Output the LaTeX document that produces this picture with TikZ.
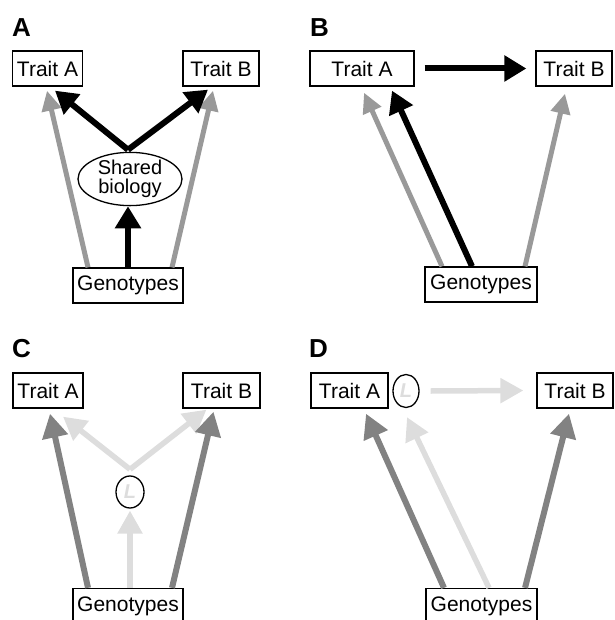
\documentclass[tikz,border=0pt]{standalone}
\usepackage{fontspec}
\setmainfont{Liberation Sans}
\usetikzlibrary{arrows.meta,shapes.geometric}
\definecolor{midgray}{HTML}{999999}
\definecolor{darkgray2}{HTML}{828282}
\definecolor{lightgray2}{HTML}{DDDDDD}
\tikzset{
  box/.style={draw, line width=1.3pt, inner sep=0pt, minimum height=35pt,
    font=\fontsize{21}{18}\selectfont},
  oval/.style={draw, ellipse, line width=1.3pt, inner sep=0pt},
  lbl/.style={anchor=base west, inner sep=0pt, font=\fontsize{26}{26}\selectfont\bfseries},
  blackarr/.style={draw=black, line width=6pt, -{Triangle[length=22pt,width=25pt]}},
  grayarr/.style={draw=midgray, line width=5pt, -{Triangle[length=20pt,width=19pt]}, color=midgray},
  darkarr/.style={draw=darkgray2, line width=6pt, -{Triangle[length=24pt,width=25pt]}, color=darkgray2},
  lightarr/.style={draw=lightgray2, line width=5.5pt, -{Triangle[length=23pt,width=24pt]}, color=lightgray2},
  Lmark/.style={text=lightgray2, font=\fontsize{20}{20}\selectfont\bfseries\itshape}
}
\begin{document}
\begin{tikzpicture}[x=1pt,y=-1pt]
\useasboundingbox (0,0) rectangle (614,620);
% ---------- Panel A ----------
\node[lbl] (la) at (12,37) {A};
\node[box, minimum width=70pt] (tAa) at (47.5,68.5) {Trait A};
\node[box, minimum width=76pt] (tBa) at (221,68.5) {Trait B};
\node[oval, minimum width=104pt, minimum height=50pt, align=center,
      font=\fontsize{20}{19}\selectfont] (sba) at (130,179) {Shared\\biology};
\node[box, minimum width=110pt] (gA) at (128,285.5) {Genotypes};
\draw[grayarr] ([xshift=-40pt]gA.north) -- ([xshift=-0.5pt,yshift=-4pt]tAa.south);
\draw[grayarr] ([xshift=44pt]gA.north) -- ([xshift=-8pt,yshift=-4pt]tBa.south);
\draw[blackarr] ([xshift=-2pt,yshift=2pt]sba.north) -- ([xshift=7.5pt,yshift=-4pt]tAa.south);
\draw[blackarr] ([xshift=-2pt,yshift=2pt]sba.north) -- ([xshift=-13pt,yshift=-3pt]tBa.south);
\draw[blackarr] (gA.north) -- (gA.north |- sba.south);
% ---------- Panel B ----------
\node[lbl] (lb) at (310,37) {B};
\node[box, minimum width=104pt] (tAb) at (362,68.5) {Trait A};
\node[box, minimum width=76pt] (tBb) at (574,68.5) {Trait B};
\node[box, minimum width=112pt] (gB) at (481,284.5) {Genotypes};
\draw[blackarr] ([xshift=10pt]tAb.east) -- ([xshift=-9pt]tBb.west);
\draw[grayarr] ([xshift=-39pt]gB.north) -- ([xshift=2pt,yshift=-6pt]tAb.south);
\draw[blackarr] ([xshift=-9pt]gB.north) -- ([xshift=30pt,yshift=-4pt]tAb.south);
\draw[grayarr] ([xshift=44pt]gB.north) -- ([xshift=-9pt,yshift=-7pt]tBb.south);
% ---------- Panel C ----------
\node[lbl] (lc) at (12,357) {C};
\node[box, minimum width=70pt] (tAc) at (48,390.5) {Trait A};
\node[box, minimum width=77pt] (tBc) at (221.5,390.5) {Trait B};
\node[oval, minimum width=28pt, minimum height=32pt, Lmark] (Lc) at (130,492) {L};
\node[box, minimum width=110pt] (gC) at (128,606) {Genotypes};
\draw[lightarr] ([yshift=6pt]Lc.north) -- ([xshift=15pt,yshift=-8pt]tAc.south);
\draw[lightarr] ([yshift=6pt]Lc.north) -- ([xshift=-15pt,yshift=-1pt]tBc.south);
\draw[lightarr] ([xshift=2pt]gC.north) -- ([yshift=-2pt]Lc.south);
\draw[darkarr] ([xshift=-40pt]gC.north) -- ([xshift=2pt,yshift=-5pt]tAc.south);
\draw[darkarr] ([xshift=44pt]gC.north) -- ([xshift=-8pt,yshift=-3pt]tBc.south);
% ---------- Panel D ----------
\node[lbl] (ld) at (309,357) {D};
\node[box, minimum width=77pt] (tAd) at (349.5,390.5) {Trait A};
\node[oval, minimum width=26pt, minimum height=33pt, Lmark] (Ld) at (406,391) {L};
\node[box, minimum width=76pt] (tBd) at (575,390.5) {Trait B};
\node[box, minimum width=111pt] (gD) at (481.5,606) {Genotypes};
\draw[lightarr] ([xshift=11pt]Ld.east) -- ([xshift=-13pt]tBd.west);
\draw[darkarr] ([xshift=-37.5pt]gD.north) -- ([xshift=16.5pt,yshift=-5pt]tAd.south);
\draw[lightarr] ([xshift=7.5pt]gD.north) -- ([xshift=1pt,yshift=-9pt]Ld.south);
\draw[darkarr] ([xshift=43.5pt]gD.north) -- ([xshift=-6pt,yshift=-5pt]tBd.south);
\end{tikzpicture}
\end{document}
